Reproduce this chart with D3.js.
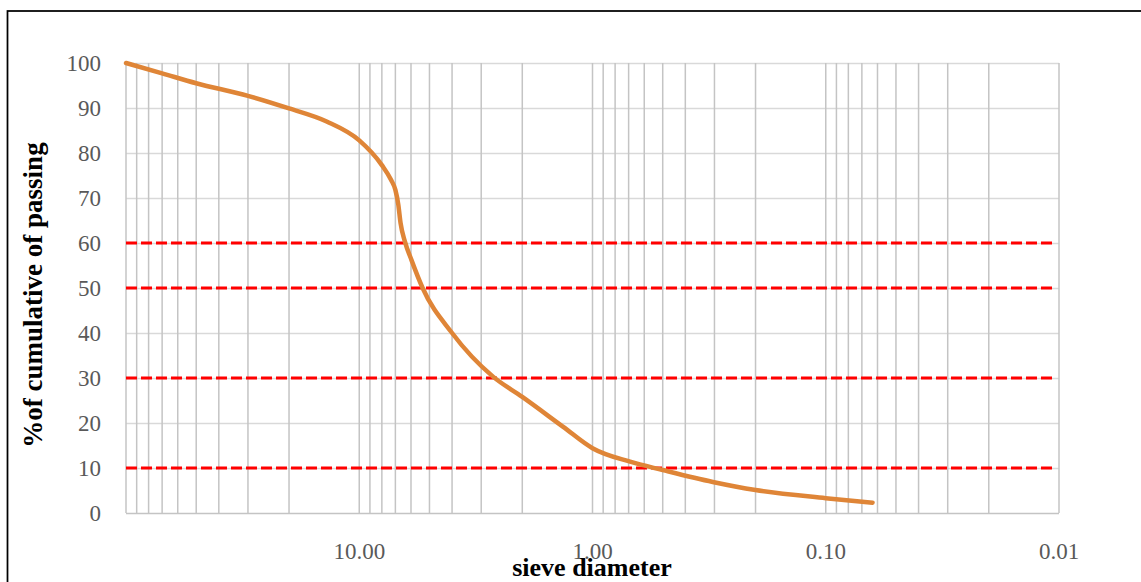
<!DOCTYPE html>
<html>
<head>
<meta charset="utf-8">
<script src="https://cdn.jsdelivr.net/npm/d3@7"></script>
<style>
  html, body { margin: 0; padding: 0; background: #fff; }
  svg { display: block; }
</style>
</head>
<body>
<div id="chart"></div>
<script>
// Sieve analysis: grain size (mm) vs cumulative % passing
const sieveSize = [100, 70, 50, 30, 20, 13.8, 10, 8, 7.3, 7, 6.8, 6.65, 6.37, 5.97, 5.35, 4.0, 2.67, 2.0, 1.34, 1.0, 0.69, 0.5, 0.305, 0.2, 0.1, 0.063];
const passing   = [100, 97.7, 95.5, 92.7, 89.9, 87, 82.8, 77.3, 74, 71.8, 68.5, 64.4, 60.3, 56.2, 50, 40, 30.3, 25.8, 19.2, 14.4, 11.4, 9.55, 6.9, 5.1, 3.3, 2.3];

// Reference lines (D10, D30, D50, D60)
const refLines = [60, 50, 30, 10];

const xTickValues = [10, 1, 0.1, 0.01];
const xTickLabels = ["10.00", "1.00", "0.10", "0.01"];
const yTickValues = [0, 10, 20, 30, 40, 50, 60, 70, 80, 90, 100];

const width = 1141;
const height = 582;
const margin = { top: 63, right: 82, bottom: 69, left: 126 };

const svg = d3.select("#chart")
    .append("svg")
    .attr("width", width)
    .attr("height", height)
    .style("font-family", "'Liberation Serif', 'Times New Roman', serif");

// outer frame
svg.append("rect")
    .attr("x", 7.5)
    .attr("y", 11)
    .attr("width", 1300)
    .attr("height", 800)
    .attr("fill", "none")
    .attr("stroke", "#000")
    .attr("stroke-width", 1.75);

const x = d3.scaleLog()
    .domain([100, 0.01])
    .range([margin.left, width - margin.right]);

const y = d3.scaleLinear()
    .domain([0, 100])
    .range([height - margin.bottom, margin.top]);

const g = svg.append("g");

// minor + major vertical grid (1..9 x 10^e)
const gridX = [];
for (let e = -2; e <= 1; e++) {
    for (let k = 1; k <= 9; k++) gridX.push(k * Math.pow(10, e));
}
gridX.push(100);

g.append("g")
    .selectAll("line")
    .data(yTickValues)
    .join("line")
    .attr("x1", x.range()[0])
    .attr("x2", x.range()[1])
    .attr("y1", d => Math.round(y(d)) + 0.5)
    .attr("y2", d => Math.round(y(d)) + 0.5)
    .attr("stroke", d => d === 0 ? "#c4c4c4" : "#d9d9d9")
    .attr("stroke-width", 1.5);

g.append("g")
    .selectAll("line")
    .data(gridX)
    .join("line")
    .attr("x1", d => x(d))
    .attr("x2", d => x(d))
    .attr("y1", y(0))
    .attr("y2", y(100))
    .attr("stroke", "#c4c4c4")
    .attr("stroke-width", 1.5);

// y tick labels
g.append("g")
    .selectAll("text")
    .data(yTickValues)
    .join("text")
    .attr("x", margin.left - 25)
    .attr("y", d => y(d))
    .attr("dy", "0.35em")
    .attr("text-anchor", "end")
    .attr("font-size", "23px")
    .attr("fill", "#595959")
    .text(d => d);

// x tick labels
g.append("g")
    .selectAll("text")
    .data(xTickValues)
    .join("text")
    .attr("x", d => x(d))
    .attr("y", 559)
    .attr("text-anchor", "middle")
    .attr("font-size", "23px")
    .attr("fill", "#595959")
    .text((d, i) => xTickLabels[i]);

// red dashed reference lines
g.append("g")
    .selectAll("line")
    .data(refLines)
    .join("line")
    .attr("x1", x(100))
    .attr("x2", x(0.01) - 3)
    .attr("y1", d => y(d))
    .attr("y2", d => y(d))
    .attr("stroke", "#ff0000")
    .attr("stroke-width", 3)
    .attr("stroke-dasharray", "11,4");

// gradation curve
const line = d3.line()
    .x(d => x(d[0]))
    .y(d => y(d[1]))
    .curve(d3.curveMonotoneX);

g.append("path")
    .datum(sieveSize.map((s, i) => [s, passing[i]]))
    .attr("d", line)
    .attr("fill", "none")
    .attr("stroke", "#df8537")
    .attr("stroke-width", 4.5)
    .attr("stroke-linecap", "round")
    .attr("stroke-linejoin", "round");

// axis titles
svg.append("text")
    .attr("x", 592)
    .attr("y", 576)
    .attr("text-anchor", "middle")
    .attr("font-size", "26px")
    .attr("font-weight", "bold")
    .attr("fill", "#000")
    .text("sieve diameter");

svg.append("text")
    .attr("transform", "translate(42,295) rotate(-90)")
    .attr("text-anchor", "middle")
    .attr("font-size", "27px")
    .attr("font-weight", "bold")
    .attr("fill", "#000")
    .text("%of cumulative of passing");
</script>
</body>
</html>
